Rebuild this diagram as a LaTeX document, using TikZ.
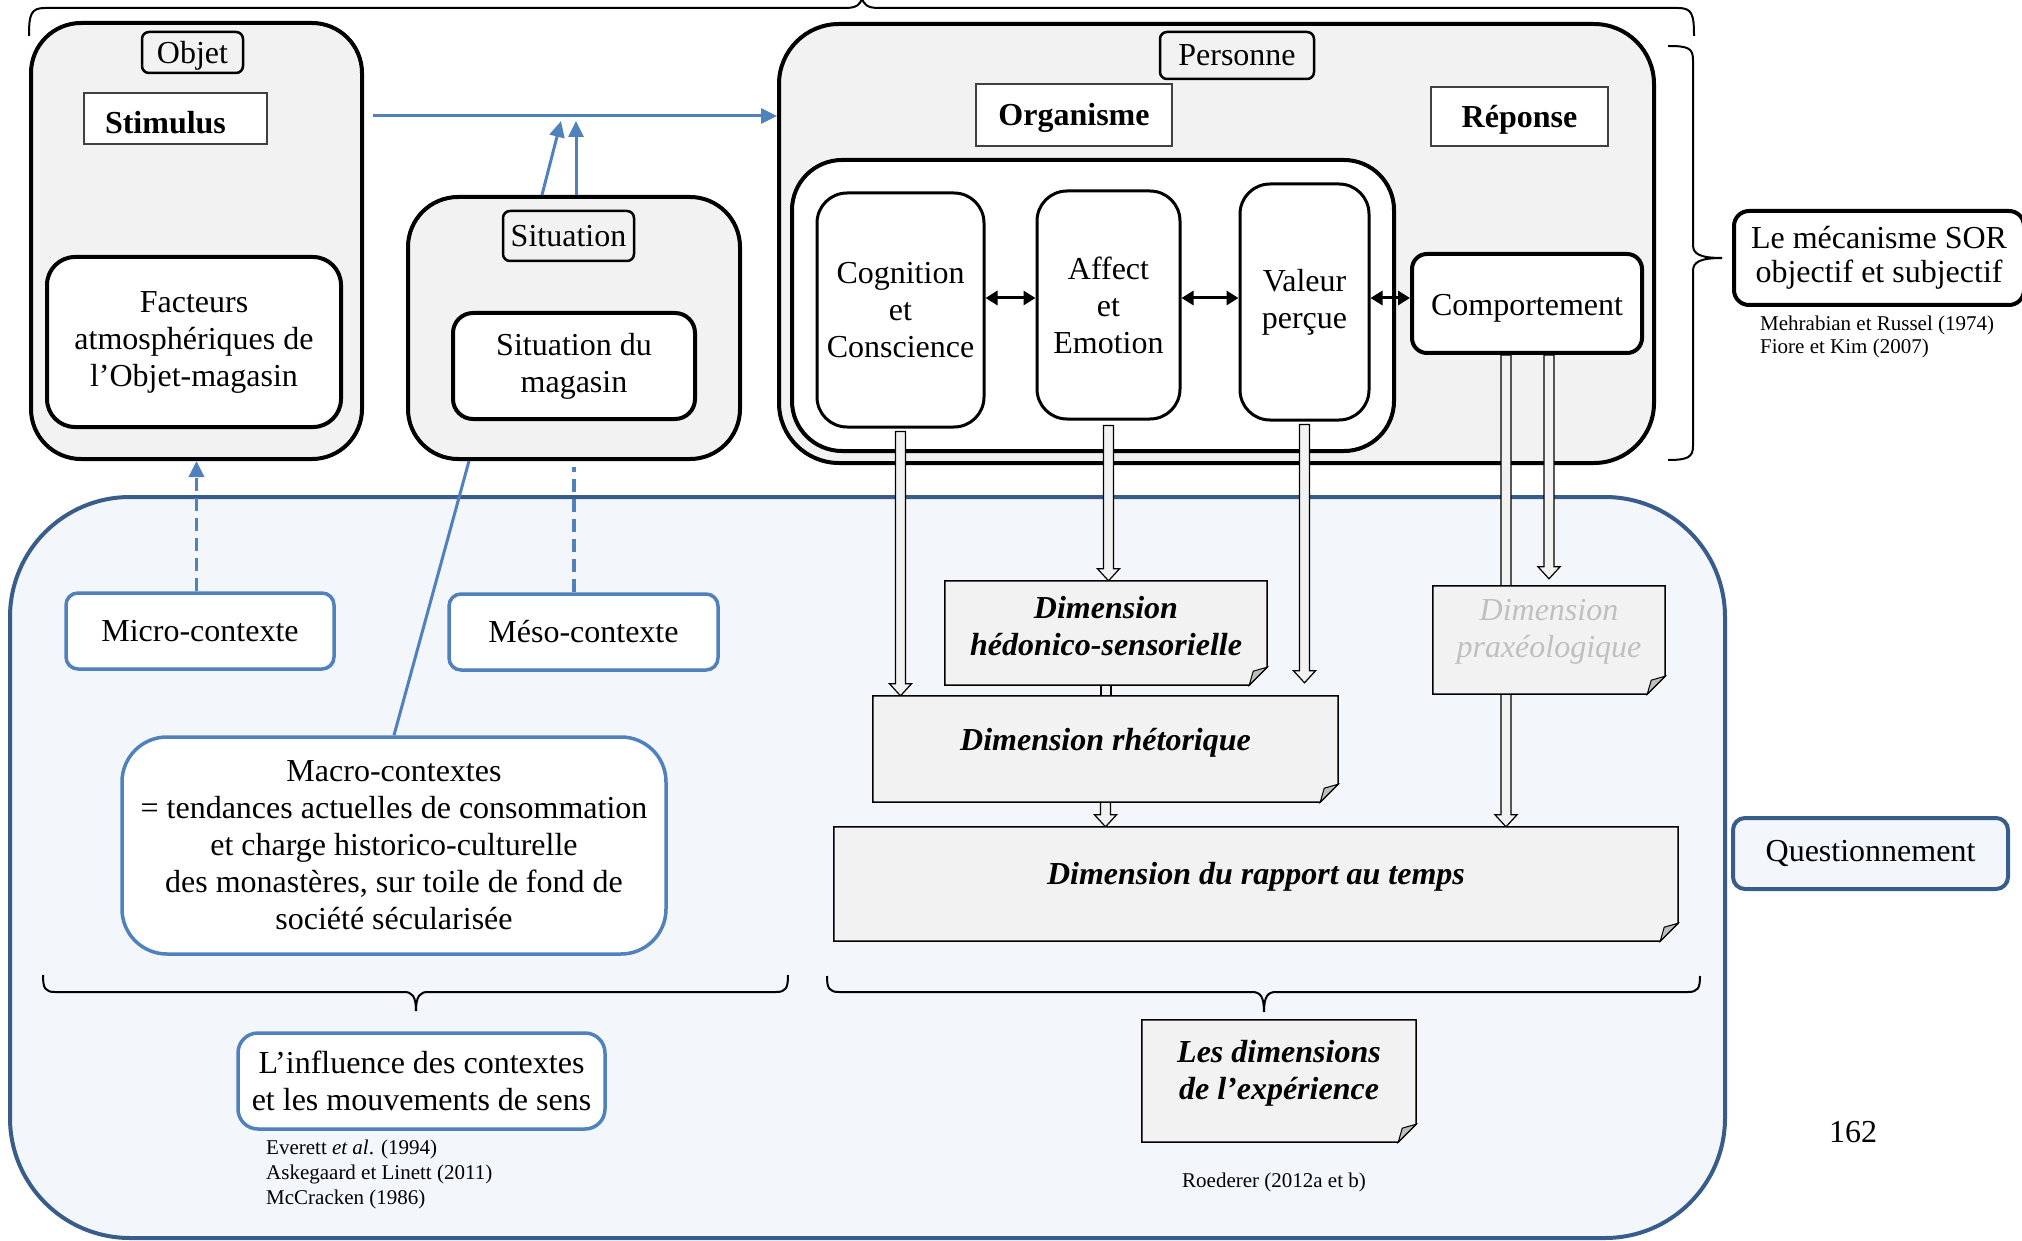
\documentclass[tikz,border=0pt]{standalone}
\usepackage{fontspec}
\setmainfont{Liberation Serif}
\usetikzlibrary{arrows.meta,calc}
\definecolor{lgray}{HTML}{F2F2F2}
\definecolor{ablue}{HTML}{4F81BD}
\definecolor{dblue}{HTML}{385D8A}
\definecolor{qfill}{HTML}{F3F6FA}
\definecolor{praxc}{HTML}{BFBFBF}
\definecolor{foldc}{HTML}{BDBDBD}
\pgfdeclarelayer{back}
\pgfdeclarelayer{mid}
\pgfsetlayers{back,mid,main}
\newcommand\mainsize{\fontsize{32}{37}\selectfont}
\newcommand\refsize{\fontsize{21}{25}\selectfont}
\newcommand\harrow[2]{%
  \filldraw[harr] let \p1=(#1), \p2=(#2) in
   (\x1-5pt,\y1) -- (\x1-5pt,\y2+12pt) -- (\x1-11pt,\y2+12pt) -- (\x1,\y2)
   -- (\x1+11pt,\y2+12pt) -- (\x1+5pt,\y2+12pt) -- (\x1+5pt,\y1) -- cycle;}
\newcommand\hshaft[2]{%
  \filldraw[harr] let \p1=(#1), \p2=(#2) in
   (\x1-5pt,\y1) rectangle (\x1+5pt,\y2);}
\newcommand\foldframe[1]{%
  \filldraw[fill=lgray, draw=black, line width=1.5pt] let \p1=(#1.north west), \p2=(#1.south east) in
   (\x1,\y1) -- (\x2,\y1) -- (\x2,\y2+18pt) -- (\x2-18pt,\y2) -- (\x1,\y2) -- cycle;
  \filldraw[fill=foldc, draw=black, line width=1pt] let \p2=(#1.south east) in
   (\x2,\y2+18pt) -- (\x2-18pt,\y2) -- (\x2-14pt,\y2+14pt) -- cycle;}
\begin{document}
\begin{tikzpicture}[x=1pt,y=-1pt,
  every node/.style={font=\mainsize, inner sep=0pt, align=center},
  container/.style={draw, line width=4pt, fill=lgray, rounded corners=50pt},
  tag/.style={draw, line width=2.5pt, fill=lgray, rounded corners=7pt},
  headbox/.style={draw=black!75, line width=1.3pt, fill=white, font={\mainsize\bfseries}},
  wbox/.style={draw, line width=4pt, fill=white, rounded corners=28pt},
  obox/.style={draw, line width=3pt, fill=white, rounded corners=30pt},
  ctxbox/.style={draw=ablue, line width=3.5pt, fill=white, rounded corners=12pt},
  dimtext/.style={font={\mainsize\bfseries\itshape}},
  bluearrow/.style={draw=ablue, line width=3pt, -{Triangle[length=16pt,width=15pt]}, ablue},
  bluedash/.style={dash pattern=on 13pt off 7pt, line width=3.5pt},
  dbl/.style={line width=3pt, {Triangle[length=12pt,width=14pt]}-{Triangle[length=12pt,width=14pt]}},
  harr/.style={fill=lgray, draw=black, line width=1.2pt},
  bracestyle/.style={draw, line width=2pt},
  refs/.style={font=\refsize, align=left},
]
\useasboundingbox (0,0) rectangle (2022,1241);

\begin{pgfonlayer}{back}
\node[draw=dblue, line width=4pt, fill=qfill, rounded corners=120pt, minimum width=1715pt, minimum height=741pt] (region) at (867.5,867.5) {};
\node[container, rounded corners=60pt, minimum width=875pt, minimum height=439pt] (perso) at (1216.5,243.5) {};
\node[wbox, rounded corners=50pt, minimum width=602pt, minimum height=291pt] (orgbox) at (1093,305.5) {};
\end{pgfonlayer}

% braces
\draw[bracestyle] (29,36) .. controls (29,14) and (31,8) .. (45,8) -- (845,8)
  .. controls (856,8) and (861,5) .. (862,-3) .. controls (863,5) and (868,8) .. (879,8)
  -- (1678,8) .. controls (1692,8) and (1694,14) .. (1694,36);
\draw[bracestyle] (1668,46) .. controls (1688,46) and (1693,48) .. (1693,60) -- (1693,245)
  .. controls (1693,254) and (1700,258) .. (1722,258) .. controls (1700,258) and (1693,262) .. (1693,271)
  -- (1693,446) .. controls (1693,457) and (1688,460) .. (1668,460);
\draw[bracestyle] (43,975) .. controls (43,988) and (45,992) .. (55,992) -- (404,992)
  .. controls (412,992) and (416,996) .. (416,1011) .. controls (416,996) and (420,992) .. (428,992)
  -- (776,992) .. controls (786,992) and (788,988) .. (788,975);
\draw[bracestyle] (827,976) .. controls (827,988) and (829,992) .. (839,992) -- (1252,992)
  .. controls (1260,992) and (1264,996) .. (1264,1012) .. controls (1264,996) and (1268,992) .. (1276,992)
  -- (1688,992) .. controls (1698,992) and (1700,988) .. (1700,976);

% Objet
\node[container, minimum width=331pt, minimum height=436pt] (objet) at (196.5,241) {};
\node[tag, minimum width=101pt, minimum height=41pt, text height=23pt, text depth=0pt] (objlbl) at (192.5,52.5) {Objet};
\node[headbox, text width=141pt, align=left, inner xsep=21pt, minimum height=51pt, text height=31pt, text depth=0pt] (stim) at (175.5,118.5) {Stimulus};
\node[wbox, minimum width=294pt, minimum height=170pt] (fact) at (194,342) {Facteurs\\atmosphériques de\\l’Objet-magasin};

% Situation
\node[container, minimum width=332pt, minimum height=262pt] (sit) at (574,328) {};
\node[tag, minimum width=131pt, minimum height=50pt] (sitlbl) at (568.5,236) {Situation};
\node[wbox, rounded corners=20pt, minimum width=242pt, minimum height=106pt] (sitmag) at (574,366) {Situation du\\magasin};

% Personne
\node[tag, minimum width=154pt, minimum height=47pt] (perslbl) at (1237,55.5) {Personne};
\node[headbox, minimum width=196pt, minimum height=62pt, text height=21pt, text depth=0pt] (organ) at (1074,115) {Organisme};
\node[headbox, minimum width=177pt, minimum height=59pt, text height=22pt, text depth=0pt] (repon) at (1519.5,116.5) {Réponse};
\node[obox, minimum width=167pt, minimum height=234pt] (cog) at (900.5,310) {Cognition\\et\\Conscience};
\node[obox, minimum width=143pt, minimum height=228pt] (aff) at (1108.5,305) {Affect\\et\\Emotion};
\node[obox, minimum width=129pt, minimum height=236pt] (val) at (1304.5,302) {Valeur\\perçue};
\node[wbox, rounded corners=15pt, minimum width=230pt, minimum height=99pt, text height=25pt, text depth=0pt] (comp) at (1527,303.5) {Comportement};

\coordinate (ya) at (0,298);
\draw[dbl] (cog.east |- ya) -- (aff.west |- ya);
\draw[dbl] (aff.east |- ya) -- (val.west |- ya);
\draw[dbl] (val.east |- ya) -- (comp.west |- ya);

% blue arrows top
\coordinate (hstart) at (373,116);
\draw[bluearrow] (hstart) -- (hstart -| perso.west);
\coordinate (up1) at (561,121);
\coordinate (up2) at (576,121);
\draw[bluearrow] ([xshift=-32pt]sit.north) -- (up1);
\draw[bluearrow] (sit.north -| up2) -- (up2);

% SOR
\node[draw, line width=4pt, fill=white, rounded corners=15pt, minimum width=290pt, minimum height=94pt, font={\fontsize{32}{34}\selectfont}] (sor) at (1879,258) {Le mécanisme SOR\\objectif et subjectif};
\node[refs, anchor=west, font={\fontsize{21}{23}\selectfont}] (ref1) at (1760,337) {Mehrabian et Russel (1974)\\Fiore et Kim (2007)};

% contexts
\node[ctxbox, minimum width=268pt, minimum height=76pt] (micro) at (200,631) {Micro-contexte};
\node[ctxbox, minimum width=269pt, minimum height=76pt] (meso) at (583.5,632) {Méso-contexte};
\node[ctxbox, rounded corners=45pt, minimum width=544pt, minimum height=217pt] (macro) at (394,845.5) {Macro-contextes\\= tendances actuelles de consommation\\et charge historico-culturelle\\des monastères, sur toile de fond de\\société sécularisée};
\node[ctxbox, rounded corners=20pt, minimum width=367pt, minimum height=96pt] (infl) at (421.5,1081) {L’influence des contextes\\et les mouvements de sens};
\node[refs, anchor=west] (ref2) at (266,1174) {Everett \textit{et al}. (1994)\\Askegaard et Linett (2011)\\McCracken (1986)};

\draw[bluearrow, bluedash] (micro.north -| objet.south) -- (objet.south);
\draw[ablue, bluedash] (meso.north -| sit.south) -- ([yshift=-6pt]sit.south);
\draw[ablue, line width=3pt] (macro.north) -- ([xshift=-105pt]sit.south);

% dimensions
\node[minimum width=322pt, minimum height=104pt] (hed) at (1106,633) {};
\node[minimum width=465pt, minimum height=106pt] (rhet) at (1105.5,749) {};
\node[minimum width=232pt, minimum height=108pt] (prax) at (1549,640) {};
\node[minimum width=844pt, minimum height=114pt] (temps) at (1256,884) {};
\node[minimum width=274pt, minimum height=122pt] (lesdim) at (1279,1081) {};
\node[dimtext] (hedt) at ([yshift=7pt]hed.center) {Dimension\\hédonico-sensorielle};
\node[dimtext] (rhett) at ([yshift=6pt]rhet.center) {Dimension rhétorique};
\node[font={\mainsize\itshape}, text=praxc] (praxt) at ([yshift=8pt]prax.center) {Dimension\\praxéologique};
\node[dimtext] (tempst) at ([yshift=7pt]temps.center) {Dimension du rapport au temps};
\node[dimtext] (lesdimt) at ([yshift=8pt]lesdim.center) {Les dimensions\\de l’expérience};
\node[font=\refsize] (ref3) at (1274,1182) {Roederer (2012a et b)};

\coordinate (cl) at ([xshift=-21pt]comp.south);
\coordinate (cr) at ([xshift=22pt]comp.south);
\begin{pgfonlayer}{mid}
\harrow{[yshift=-3pt]cog.south}{cog.south |- rhet.north}
\harrow{[yshift=-5pt]aff.south}{aff.south |- hed.north}
\harrow{[yshift=-3pt]val.south}{[yshift=13pt]val.south |- rhet.north}
\hshaft{hed.south}{hed.south |- rhet.north}
\harrow{rhet.south}{rhet.south |- temps.north}
\harrow{cl}{cl |- temps.north}
\harrow{cr}{[yshift=7pt]cr |- prax.north}
\foldframe{hed}
\foldframe{rhet}
\foldframe{prax}
\foldframe{temps}
\foldframe{lesdim}
\end{pgfonlayer}

% Questionnement and page number
\node[draw=dblue, line width=4pt, fill=qfill, rounded corners=12pt, minimum width=275pt, minimum height=71pt] (quest) at (1870.5,853.5) {Questionnement};
\node (page) at (1853,1132) {162};
\end{tikzpicture}
\end{document}
